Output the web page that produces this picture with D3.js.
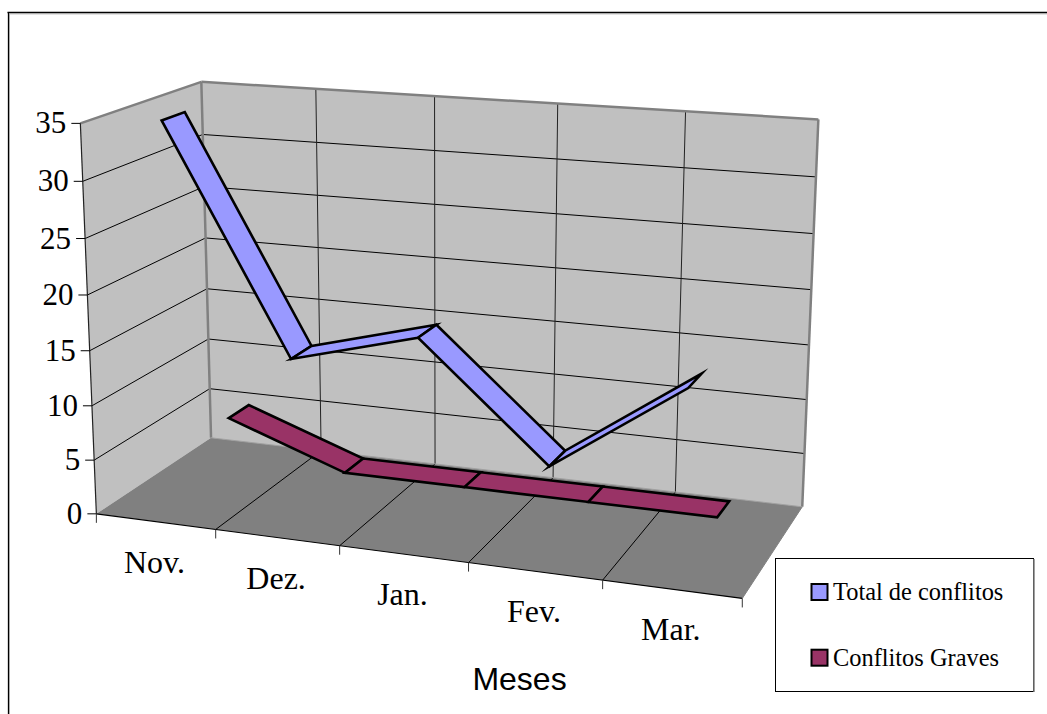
<!DOCTYPE html>
<html><head><meta charset="utf-8">
<style>html,body{margin:0;padding:0;background:#fff}svg{display:block}</style>
<script src="https://cdn.jsdelivr.net/npm/d3@7"></script></head><body>
<svg id="c" width="1047" height="714"></svg>
<script>
const categories = ["Nov.","Dez.","Jan.","Fev.","Mar."];
const totalConflitos = [35,15,18,8,16];
const conflitosGraves = [5,1,1,1,1];
const seriesNames = ["Total de conflitos","Conflitos Graves"];
const valueTicks = [0,5,10,15,20,25,30,35];
const axisTitle = "Meses";

// Projected box: reference points of the 3D chart box (u across, v up, w into page)
const boxCorners = [
 [0,0,0, 96.7,514.3],[0,1,0, 80,123.3],[0,0,1, 210.7,437.3],[0,1,1, 201.7,82],
 [1,0,1, 802.3,507.3],[1,1,1, 818.3,119.3],[1,0,0, 742.3,598]
];
function solve(A,b){const n=b.length;const M=A.map((r,i)=>[...r,b[i]]);
 for(let i=0;i<n;i++){let p=i;for(let k=i+1;k<n;k++)if(Math.abs(M[k][i])>Math.abs(M[p][i]))p=k;[M[i],M[p]]=[M[p],M[i]];
  for(let k=0;k<n;k++){if(k===i)continue;const f=M[k][i]/M[i][i];for(let j=i;j<=n;j++)M[k][j]-=f*M[i][j];}}
 return M.map((r,i)=>r[n]/r[i]);}
const rows=[],rhs=[];
boxCorners.forEach(([u,v,w,x,y])=>{
 rows.push([u,v,w,1,0,0,0,0,-u*x,-v*x,-w*x]);rhs.push(x);
 rows.push([0,0,0,0,u,v,w,1,-u*y,-v*y,-w*y]);rhs.push(y);});
const AtA=d3.range(11).map(i=>d3.range(11).map(j=>d3.sum(rows,r=>r[i]*r[j])));
const Atb=d3.range(11).map(i=>d3.sum(rows,(r,k)=>r[i]*rhs[k]));
const H=solve(AtA,Atb);
function proj(u,v,w){const d=H[8]*u+H[9]*v+H[10]*w+1;
 return [(H[0]*u+H[1]*v+H[2]*w+H[3])/d,(H[4]*u+H[5]*v+H[6]*w+H[7])/d];}

const xBand=d3.scaleLinear().domain([0,categories.length]).range([0,1]);
const yVal=d3.scaleLinear().domain([0,35]).range([0,1]);
const depth=d3.scaleLinear().domain([0,2]).range([0,1]);
const svg=d3.select("#c");
const poly=a=>a.map(p=>p.map(n=>n.toFixed(2)).join(",")).join(" ");
function seg(a,b,stroke,sw){svg.append("line").attr("x1",a[0]).attr("y1",a[1]).attr("x2",b[0]).attr("y2",b[1]).attr("stroke",stroke).attr("stroke-width",sw);}

// outer frame: top and left edges only, with a soft grey inner edge
seg([9.5,14],[1047,14],"#c8c8c8",1);
seg([9.5,14],[9.5,714],"#c8c8c8",1);
seg([7.5,12.5],[1047,12.5],"#000",1.3);
seg([8.5,12],[8.5,714],"#000",1.3);

// walls and floor
svg.append("polygon").attr("points",poly([proj(0,0,0),proj(0,1,0),proj(0,1,1),proj(0,0,1)])).attr("fill","#C0C0C0");
svg.append("polygon").attr("points",poly([proj(0,0,1),proj(0,1,1),proj(1,1,1),proj(1,0,1)])).attr("fill","#C0C0C0");
svg.append("polygon").attr("points",poly([proj(0,0,0),proj(0,0,1),proj(1,0,1),proj(1,0,0)])).attr("fill","#808080");

// gridlines
valueTicks.slice(1,-1).forEach(t=>{const v=yVal(t);
 seg(proj(0,v,0),proj(0,v,1),"#000",1);seg(proj(0,v,1),proj(1,v,1),"#000",1);});
d3.range(1,categories.length).forEach(i=>{const u=xBand(i);
 seg(proj(u,0,0),proj(u,0,1),"#000",1);seg(proj(u,0,1),proj(u,1,1),"#222",1);});

// wall edges
[[[0,1,0],[0,1,1]],[[0,1,1],[1,1,1]],[[0,1,1],[0,0,1]],[[1,1,1],[1,0,1]]].forEach(([a,b])=>seg(proj(...a),proj(...b),"#808080",2.5));
seg(proj(0,0,1),proj(1,0,1),"#A0A0A0",1);

// axes
seg(proj(0,0,0),proj(0,1,0),"#222",1.2);
seg(proj(0,0,0),proj(1,0,0),"#000",1.2);
seg(proj(1,0,0),proj(1,0,1),"#808080",1);
valueTicks.forEach(t=>{const p=proj(0,yVal(t),0);
 seg([p[0]-9,p[1]],p,"#000",1);
 svg.append("text").attr("x",p[0]-14).attr("y",p[1]+10).attr("text-anchor","end")
  .attr("font-family","'Liberation Serif'").attr("font-size",31).text(t);});
d3.range(0,categories.length+1).forEach(i=>{const p=proj(xBand(i),0,0);seg(p,[p[0],p[1]+9],"#333",1);});
categories.forEach((c,i)=>{const p=proj(xBand(i+.5),0,0);
 svg.append("text").attr("x",p[0]-1).attr("y",p[1]+51).attr("text-anchor","middle")
  .attr("font-family","'Liberation Serif'").attr("font-size",32).text(c);});
svg.append("text").attr("x",519.5).attr("y",690).attr("text-anchor","middle").attr("font-family","'Liberation Sans'").attr("font-size",32).text(axisTitle);

// ribbons
const hw=0.095;
function ribbon(vals,si,color){const w0=depth(si+.5)-hw,w1=depth(si+.5)+hw;
 d3.pairs(vals.map((d,i)=>[xBand(i+.5),yVal(d)])).forEach(([a,b])=>{
  svg.append("polygon").attr("points",poly([proj(a[0],a[1],w0),proj(a[0],a[1],w1),proj(b[0],b[1],w1),proj(b[0],b[1],w0)]))
   .attr("fill",color).attr("stroke","#000").attr("stroke-width",2.6).attr("stroke-linejoin","miter").attr("stroke-miterlimit",10);});}
ribbon(conflitosGraves,1,"#993366");
ribbon(totalConflitos,0,"#9999FF");

// legend
svg.append("rect").attr("x",775.5).attr("y",558.5).attr("width",258).attr("height",133).attr("fill","#fff").attr("stroke","#000");
seg([1034,559],[1034,692],"#808080",1.5);
[["#9999FF",600],["#993366",665.7]].forEach(([col,b],i)=>{
 svg.append("rect").attr("x",811.5).attr("y",b-16).attr("width",16).attr("height",16).attr("fill",col).attr("stroke","#000").attr("stroke-width",2);
 svg.append("text").attr("x",833).attr("y",b).attr("font-family","'Liberation Serif'").attr("font-size",24.4).text(seriesNames[i]);});
</script></body></html>
